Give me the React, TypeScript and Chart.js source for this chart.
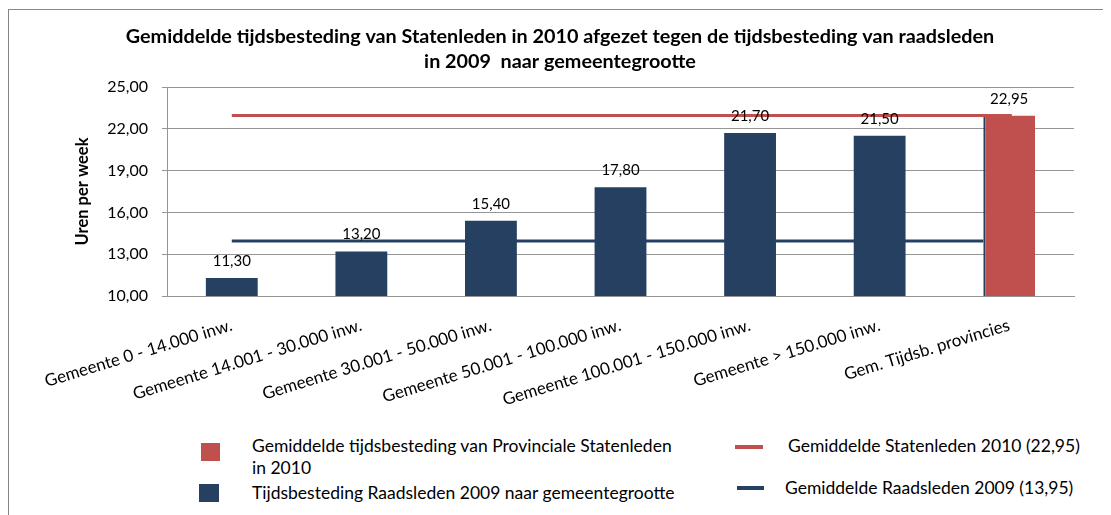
import React, { useEffect, useRef } from "react";
import { Chart, registerables } from "chart.js";

Chart.register(...registerables);

const TITLE_LINES = [
  "Gemiddelde tijdsbesteding van Statenleden in 2010 afgezet tegen de tijdsbesteding van raadsleden",
  "in 2009  naar gemeentegrootte",
];
const Y_TITLE = "Uren per week";

const CATEGORIES = [
  "Gemeente 0 - 14.000 inw.",
  "Gemeente 14.001 - 30.000 inw.",
  "Gemeente 30.001 - 50.000 inw.",
  "Gemeente 50.001 - 100.000 inw.",
  "Gemeente 100.001 - 150.000 inw.",
  "Gemeente > 150.000 inw.",
  "Gem. Tijdsb. provincies",
];
const BAR_VALUES = [11.3, 13.2, 15.4, 17.8, 21.7, 21.5, 22.95];
const BLUE = "#254061";
const RED = "#C0504D";
const BAR_COLORS = [BLUE, BLUE, BLUE, BLUE, BLUE, BLUE, RED];

const STATEN_AVG = 22.95;
const RAADS_AVG = 13.95;
const STATEN_LINE_X = [0, 6.02];
const RAADS_LINE_X = [0, 5.8];

const Y_MIN = 10;
const Y_MAX = 25;
const Y_STEP = 3;

const LEGEND_BARS = [
  { lines: ["Gemiddelde tijdsbesteding van Provinciale Statenleden", "in 2010"], color: RED },
  { lines: ["Tijdsbesteding Raadsleden 2009 naar gemeentegrootte"], color: BLUE },
];
const LEGEND_LINES = [
  { label: "Gemiddelde Statenleden 2010 (22,95)", color: RED },
  { label: "Gemiddelde Raadsleden 2009 (13,95)", color: BLUE },
];

const FONT = "Lato, 'Open Sans', sans-serif";
const fmt = (v: number) => v.toFixed(2).replace(".", ",");

const dataLabels = {
  id: "dataLabels",
  afterDatasetsDraw(chart: any) {
    const meta = chart.getDatasetMeta(0);
    const ctx = chart.ctx;
    ctx.save();
    ctx.font = `15px ${FONT}`;
    ctx.fillStyle = "#000";
    ctx.textAlign = "center";
    ctx.textBaseline = "alphabetic";
    meta.data.forEach((el: any, i: number) => {
      ctx.fillText(fmt(BAR_VALUES[i]), el.x, el.y - 12);
    });
    ctx.restore();
  },
};

export default function App() {
  const ref = useRef<HTMLCanvasElement>(null);

  useEffect(() => {
    document.documentElement.style.overflow = "hidden";
    document.body.style.overflow = "hidden";
    const chart = new Chart(ref.current!, {
      type: "bar",
      data: {
        labels: CATEGORIES,
        datasets: [
          {
            type: "bar",
            label: "bars",
            data: BAR_VALUES,
            backgroundColor: BAR_COLORS,
            borderColor: BLUE,
            borderWidth: (c: any) =>
              c.dataIndex === BAR_VALUES.length - 1 ? { left: 2, top: 0, right: 0, bottom: 0 } : 0,
            borderSkipped: false,
            grouped: false,
            categoryPercentage: 1,
            barPercentage: 0.4,
            order: 2,
          } as any,
          {
            type: "line",
            label: "staten",
            xAxisID: "xl",
            data: STATEN_LINE_X.map((x) => ({ x, y: STATEN_AVG })),
            borderColor: RED,
            borderWidth: 3,
            pointRadius: 0,
            order: 1,
          } as any,
          {
            type: "line",
            label: "raads",
            xAxisID: "xl",
            data: RAADS_LINE_X.map((x) => ({ x, y: RAADS_AVG })),
            borderColor: BLUE,
            borderWidth: 3,
            pointRadius: 0,
            order: 1,
          } as any,
        ],
      },
      options: {
        responsive: false,
        animation: false,
        events: [],
        layout: { padding: { left: 38, right: 29, top: 0, bottom: 0 } },
        plugins: {
          legend: { display: false },
          tooltip: { enabled: false },
          title: {
            display: true,
            text: TITLE_LINES,
            color: "#000",
            font: { family: FONT, size: 19.8, weight: "bold", lineHeight: 25 / 19.8 },
            padding: { top: 16.5, bottom: 12.5 },
          },
        },
        scales: {
          x: {
            type: "category",
            grid: { display: false, drawTicks: false, tickLength: 0 },
            border: { display: true, color: "#959595", width: 1 },
            ticks: {
              autoSkip: false,
              minRotation: 17,
              maxRotation: 17,
              padding: 19,
              color: "#000",
              font: { family: FONT, size: 17 },
            },
            afterFit(scale: any) {
              scale.height = 132;
            },
          },
          xl: {
            type: "linear",
            display: false,
            offset: false,
            bounds: "ticks",
            min: -0.5,
            max: 6.5,
          },
          y: {
            min: Y_MIN,
            max: Y_MAX,
            grid: { color: "#959595", tickLength: 5, drawTicks: true },
            border: { display: true, color: "#959595" },
            ticks: {
              stepSize: Y_STEP,
              padding: 14,
              color: "#000",
              font: { family: FONT, size: 16 },
              callback: (v: any) => fmt(Number(v)),
            },
            title: {
              display: true,
              text: Y_TITLE,
              color: "#000",
              font: { family: FONT, size: 16.5, weight: "bold", lineHeight: 1.2 },
              padding: { top: 27, bottom: 0 },
            },
            afterFit(scale: any) {
              scale.width = 121;
            },
          },
        },
      },
      plugins: [dataLabels],
    } as any);
    return () => chart.destroy();
  }, []);

  const textStyle: React.CSSProperties = {
    position: "absolute",
    fontFamily: FONT,
    fontSize: 17.5,
    lineHeight: "22px",
    color: "#000",
    whiteSpace: "nowrap",
  };

  return (
    <div style={{ position: "relative", width: 1103, height: 507 }}>
      <div
        style={{
          position: "absolute",
          left: 0,
          top: 1,
          width: 1200,
          height: 700,
          borderLeft: "1px solid #868686",
          borderTop: "1px solid #868686",
        }}
      />
      <canvas
        ref={ref}
        width={1095}
        height={420}
        style={{ position: "absolute", left: 0, top: 0, width: 1095, height: 420 }}
      />
      <div style={{ position: "absolute", left: 193, top: 435, width: 19, height: 18, background: LEGEND_BARS[0].color }} />
      <div style={{ ...textStyle, left: 244, top: 427 }}>
        {LEGEND_BARS[0].lines.map((l, i) => (
          <div key={i}>{l}</div>
        ))}
      </div>
      <div style={{ position: "absolute", left: 191, top: 476, width: 20, height: 18, background: LEGEND_BARS[1].color }} />
      <div style={{ ...textStyle, left: 244, top: 474 }}>
        {LEGEND_BARS[1].lines.map((l, i) => (
          <div key={i}>{l}</div>
        ))}
      </div>
      <div style={{ position: "absolute", left: 727, top: 437, width: 28, height: 4, background: LEGEND_LINES[0].color }} />
      <div style={{ ...textStyle, left: 780, top: 427 }}>{LEGEND_LINES[0].label}</div>
      <div style={{ position: "absolute", left: 729, top: 478, width: 27, height: 4, background: LEGEND_LINES[1].color }} />
      <div style={{ ...textStyle, left: 777, top: 469 }}>{LEGEND_LINES[1].label}</div>
    </div>
  );
}
